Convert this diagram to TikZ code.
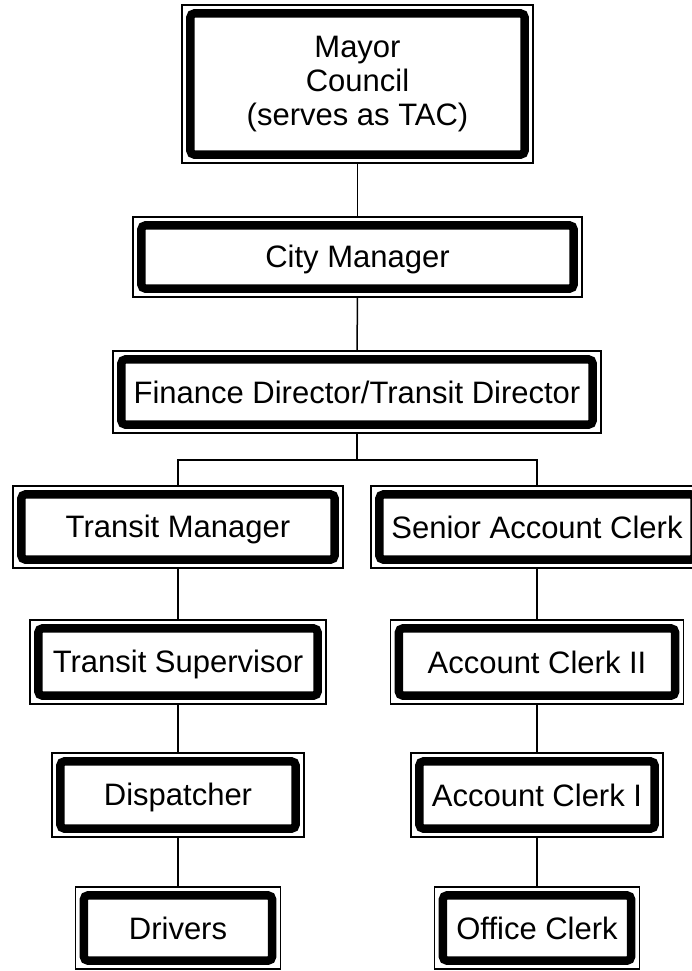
\documentclass[tikz,border=0pt]{standalone}
\usepackage{fontspec}
\setmainfont{Liberation Sans}
\begin{document}
\begin{tikzpicture}[x=0.5pt,y=-0.5pt,
    post/.style={draw,line width=0.75pt,inner sep=0pt,align=center,
        font=\fontsize{15.5}{17}\selectfont,
        path picture={\draw[line width=4.2pt,rounded corners=2pt]
            ([shift={(4.2pt,-4.2pt)}]path picture bounding box.north west) rectangle
            ([shift={(-4.2pt,4.2pt)}]path picture bounding box.south east);}},
    oneline/.style={execute at begin node={\rule[-3pt]{0pt}{17pt}}},
    size/.style 2 args={minimum width=#1,minimum height=#2},
    link/.style={line width=0.75pt}]
    \useasboundingbox (0,0) rectangle (692,971);
    % top of the chart
    \node[post,size={175.5pt}{79pt}] (mayor) at (357.5,84) {Mayor\\Council\\(serves as TAC)};
    \node[post,oneline,size={224.5pt}{40pt}] (city) at (357.5,257) {City Manager};
    \node[post,oneline,size={244pt}{41pt}] (fin) at (357,392) {Finance Director/Transit Director};
    \coordinate (split) at (357,460);
    % left branch
    \node[post,oneline,size={165pt}{41pt}] (tm) at (178,527) {Transit Manager};
    \node[post,oneline,size={148pt}{42pt}] (ts) at (178,662) {Transit Supervisor};
    \node[post,oneline,size={126pt}{42pt}] (disp) at (178,795) {Dispatcher};
    \node[post,oneline,size={102.5pt}{41pt}] (drv) at (178,928) {Drivers};
    % right branch
    \node[post,oneline,size={166pt}{41pt}] (sac) at (537,527) {Senior Account Clerk};
    \node[post,oneline,size={146.5pt}{42pt}] (ac2) at (537,662) {Account Clerk II};
    \node[post,oneline,size={126pt}{42pt}] (ac1) at (537,795) {Account Clerk I};
    \node[post,oneline,size={102.5pt}{41pt}] (oc) at (537,928) {Office Clerk};
    % connectors
    \draw[link] (mayor) -- (city);
    \draw[link] (city) -- (fin);
    \draw[link] (fin) -- (split);
    \draw[link] (tm.north) |- (split) -| (sac.north);
    \draw[link] (tm) -- (ts);
    \draw[link] (ts) -- (disp);
    \draw[link] (disp) -- (drv);
    \draw[link] (sac) -- (ac2);
    \draw[link] (ac2) -- (ac1);
    \draw[link] (ac1) -- (oc);
\end{tikzpicture}
\end{document}
